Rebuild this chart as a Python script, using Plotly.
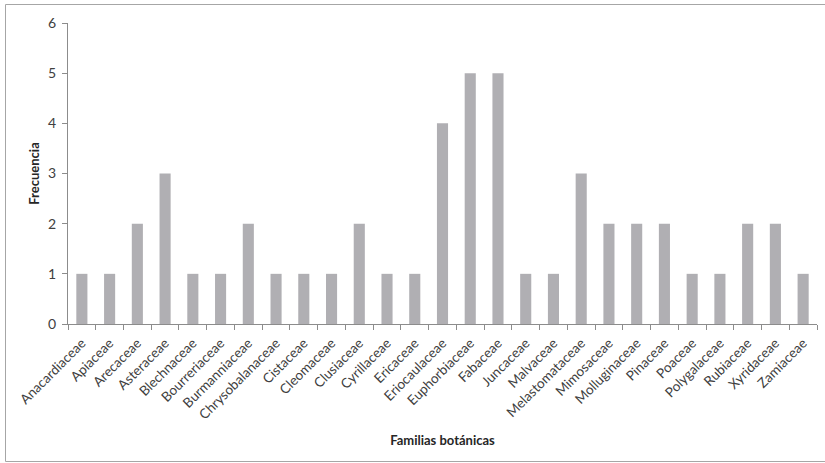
import plotly.graph_objects as go

familias = [
    "Anacardiaceae", "Apiaceae", "Arecaceae", "Asteraceae", "Blechnaceae",
    "Bourreriaceae", "Burmanniaceae", "Chrysobalanaceae", "Cistaceae",
    "Cleomaceae", "Clusiaceae", "Cyrillaceae", "Ericaceae", "Eriocaulaceae",
    "Euphorbiaceae", "Fabaceae", "Juncaceae", "Malvaceae", "Melastomataceae",
    "Mimosaceae", "Molluginaceae", "Pinaceae", "Poaceae", "Polygalaceae",
    "Rubiaceae", "Xyridaceae", "Zamiaceae",
]
frecuencia = [1, 1, 2, 3, 1, 1, 2, 1, 1, 1, 2, 1, 1, 4, 5, 5, 1, 1, 3, 2, 2, 2, 1, 1, 2, 2, 1]
y_ticks = [0, 1, 2, 3, 4, 5, 6]

FONT = "Lato, 'Open Sans', sans-serif"
AXIS = "#8c8c8c"

fig = go.Figure(
    go.Bar(
        x=familias,
        y=frecuencia,
        marker=dict(color="#b0afb3", line=dict(width=0)),
        width=0.4,
    )
)

W, H = 825, 463
L, R, T, B = 68, 8, 23, 139
pw, ph = W - L - R, H - T - B


def px_x(px):
    """Pixel column -> paper x."""
    return (px - L) / pw


def px_y(py):
    """Pixel row -> paper y."""
    return (T + ph - py) / ph


# outer frame around the whole chart
frame = [
    dict(type="line", x0=px_x(5.5), x1=px_x(830), y0=px_y(4.5), y1=px_y(4.5)),
    dict(type="line", x0=px_x(5.5), x1=px_x(830), y0=px_y(461.5), y1=px_y(461.5)),
    dict(type="line", x0=px_x(5.5), x1=px_x(5.5), y0=px_y(4.5), y1=px_y(461.5)),
]
for s in frame:
    s.update(xref="paper", yref="paper", line=dict(color="#a6a6a6", width=1), layer="above")

fig.update_layout(
    width=W,
    height=H,
    margin=dict(l=L, r=R, t=T, b=B),
    paper_bgcolor="white",
    plot_bgcolor="white",
    showlegend=False,
    font=dict(family=FONT, color="#404040"),
    xaxis=dict(
        type="category",
        tickangle=-45,
        tickfont=dict(size=13.5, color="#404040"),
        ticklabelstandoff=5,
        showline=True,
        linecolor=AXIS,
        linewidth=1,
        ticks="outside",
        tickson="boundaries",
        ticklen=5,
        tickcolor=AXIS,
        showgrid=False,
        title=dict(
            text="<b>Familias botánicas</b>",
            font=dict(size=13, color="#262626"),
            standoff=14,
        ),
        automargin=False,
    ),
    yaxis=dict(
        range=[0, 6],
        tickvals=y_ticks,
        tickfont=dict(size=14, color="#404040"),
        ticklabelstandoff=3,
        showline=True,
        linecolor=AXIS,
        linewidth=1,
        ticks="outside",
        ticklen=5,
        tickcolor=AXIS,
        showgrid=False,
        zeroline=False,
        title=dict(
            text="<b>Frecuencia</b>",
            font=dict(size=13, color="#262626"),
            standoff=5,
        ),
        automargin=False,
    ),
    shapes=frame,
)

fig.write_html("out.html")
